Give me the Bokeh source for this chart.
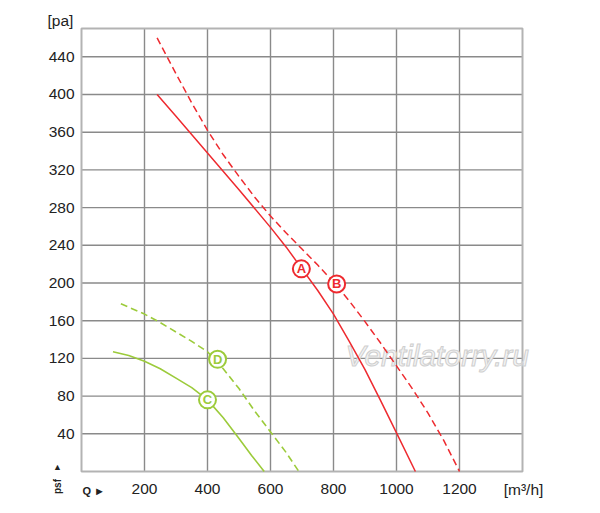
from bokeh.plotting import figure
from bokeh.models import Range1d, ColumnDataSource
from bokeh.core.properties import value
from bokeh.embed import file_html
from bokeh.resources import INLINE

# Curve data (Q in m3/h, p in Pa)
a_q = [240, 300, 400, 500, 600, 650, 700, 750, 800, 850, 900, 950, 1000, 1060]
a_p = [400, 377, 338, 299, 259, 238, 215, 192, 167, 138, 108, 75, 41, 0]

b_q = [240, 300, 350, 400, 450, 500, 550, 600, 650, 700, 750, 800, 850, 900,
       950, 1000, 1050, 1100, 1150, 1200]
b_p = [460, 422, 391, 362, 336, 313, 291, 271, 253, 236, 219, 201, 181, 159,
       136, 112, 88, 62, 33, 0]

c_q = [100, 150, 200, 250, 300, 350, 400, 450, 500, 540, 580]
c_p = [127, 123, 117, 109, 99, 89, 76, 57, 35, 17, 0]

d_q = [125, 200, 250, 300, 350, 400, 450, 500, 550, 600, 650, 690]
d_p = [178, 167, 158, 148, 138, 127, 109, 88, 64, 42, 20, 0]

marker_names = ["A", "B", "C", "D"]
marker_q = [698, 810, 400, 432]
marker_p = [215, 199, 76, 119]

x_ticks = [200, 400, 600, 800, 1000, 1200]
x_tick_labels = ["200", "400", "600", "800", "1000", "1200"]
y_ticks = [40, 80, 120, 160, 200, 240, 280, 320, 360, 400, 440]
y_tick_labels = ["40", "80", "120", "160", "200", "240", "280", "320", "360",
                 "400", "440"]
x_max = 1400
y_max = 470

# ---- layout (pixels) ----
W, H = 584, 505
FL, FR, FT, FB = 81, 522, 28, 471          # plot box edges on the canvas
sx = (FR - FL) / x_max                     # px per m3/h
sy = (FB - FT) / y_max                     # px per Pa
def dx(px):
    return (px - FL) / sx
def dy(py):
    return (FB - py) / sy

RED = "#ee2a2f"
GREEN = "#9ccb3b"
FONT = "Liberation Sans"
INK = "#222222"

p = figure(width=W, height=H, output_backend="svg", toolbar_location=None,
           x_range=Range1d(dx(0), dx(W)), y_range=Range1d(dy(H), dy(0)),
           min_border=0, x_axis_type=None, y_axis_type=None)
p.grid.visible = False
p.outline_line_color = None
p.background_fill_color = "white"
p.border_fill_color = "white"

# grid
p.segment(x0=x_ticks, y0=[0] * len(x_ticks), x1=x_ticks,
          y1=[y_max] * len(x_ticks), line_color="#8a8a8a", line_width=1.4)
p.segment(x0=[0] * len(y_ticks), y0=y_ticks, x1=[x_max] * len(y_ticks),
          y1=y_ticks, line_color="#8a8a8a", line_width=1.4)
# plot box
p.quad(left=[0], right=[x_max], bottom=[0], top=[y_max], fill_color=None,
       line_color="#b3b3b3", line_width=2)

# tick labels
p.text(x=[dx(74)] * len(y_ticks), y=y_ticks, text=y_tick_labels,
       text_font=value(FONT), text_font_size="15.5px", text_color=INK,
       text_align="right", text_baseline="middle")
p.text(x=x_ticks, y=[dy(488)] * len(x_ticks), text=x_tick_labels,
       text_font=value(FONT), text_font_size="15.5px", text_color=INK,
       text_align="center", text_baseline="middle")

# watermark
p.text(x=[dx(345)], y=[dy(355)], text=["Ventilatorry.ru"],
       text_font=value(FONT), text_font_style="italic", text_font_size="30px",
       text_color="#f3f3f3", text_outline_color="#cfcfcf",
       text_baseline="middle")

# curves
p.line(a_q, a_p, line_color=RED, line_width=1.5)
p.line(b_q, b_p, line_color=RED, line_width=1.5, line_dash="7 4")
p.line(c_q, c_p, line_color=GREEN, line_width=1.6)
p.line(d_q, d_p, line_color=GREEN, line_width=1.6, line_dash="7 4")

msrc = ColumnDataSource(dict(q=marker_q, p=marker_p, t=marker_names,
                             c=[RED, RED, GREEN, GREEN]))
p.scatter("q", "p", source=msrc, marker="circle", size=17, fill_color="white",
          line_color="c", line_width=2)
p.text("q", "p", text="t", source=msrc, text_color="c", text_font=value(FONT),
       text_font_style="bold", text_font_size="13px", text_align="center",
       text_baseline="middle")

# axis captions
def cap(px, py, text, size, **kw):
    p.text(x=[dx(px)], y=[dy(py)], text=[text], text_font=value(FONT),
           text_font_size=size, text_color=INK, text_baseline="middle", **kw)

cap(47, 20, "[pa]", "15.5px")
cap(523, 489, "[m³/h]", "15.5px", text_align="center")
cap(82, 490, "Q ►", "11px", text_font_style="bold")
cap(57, 466, "▲", "9px", text_align="center")
cap(57, 486, "psf", "10px", text_font_style="bold", angle=1.5708,
    text_align="center")

open("out.html", "w").write(file_html(p, INLINE))
